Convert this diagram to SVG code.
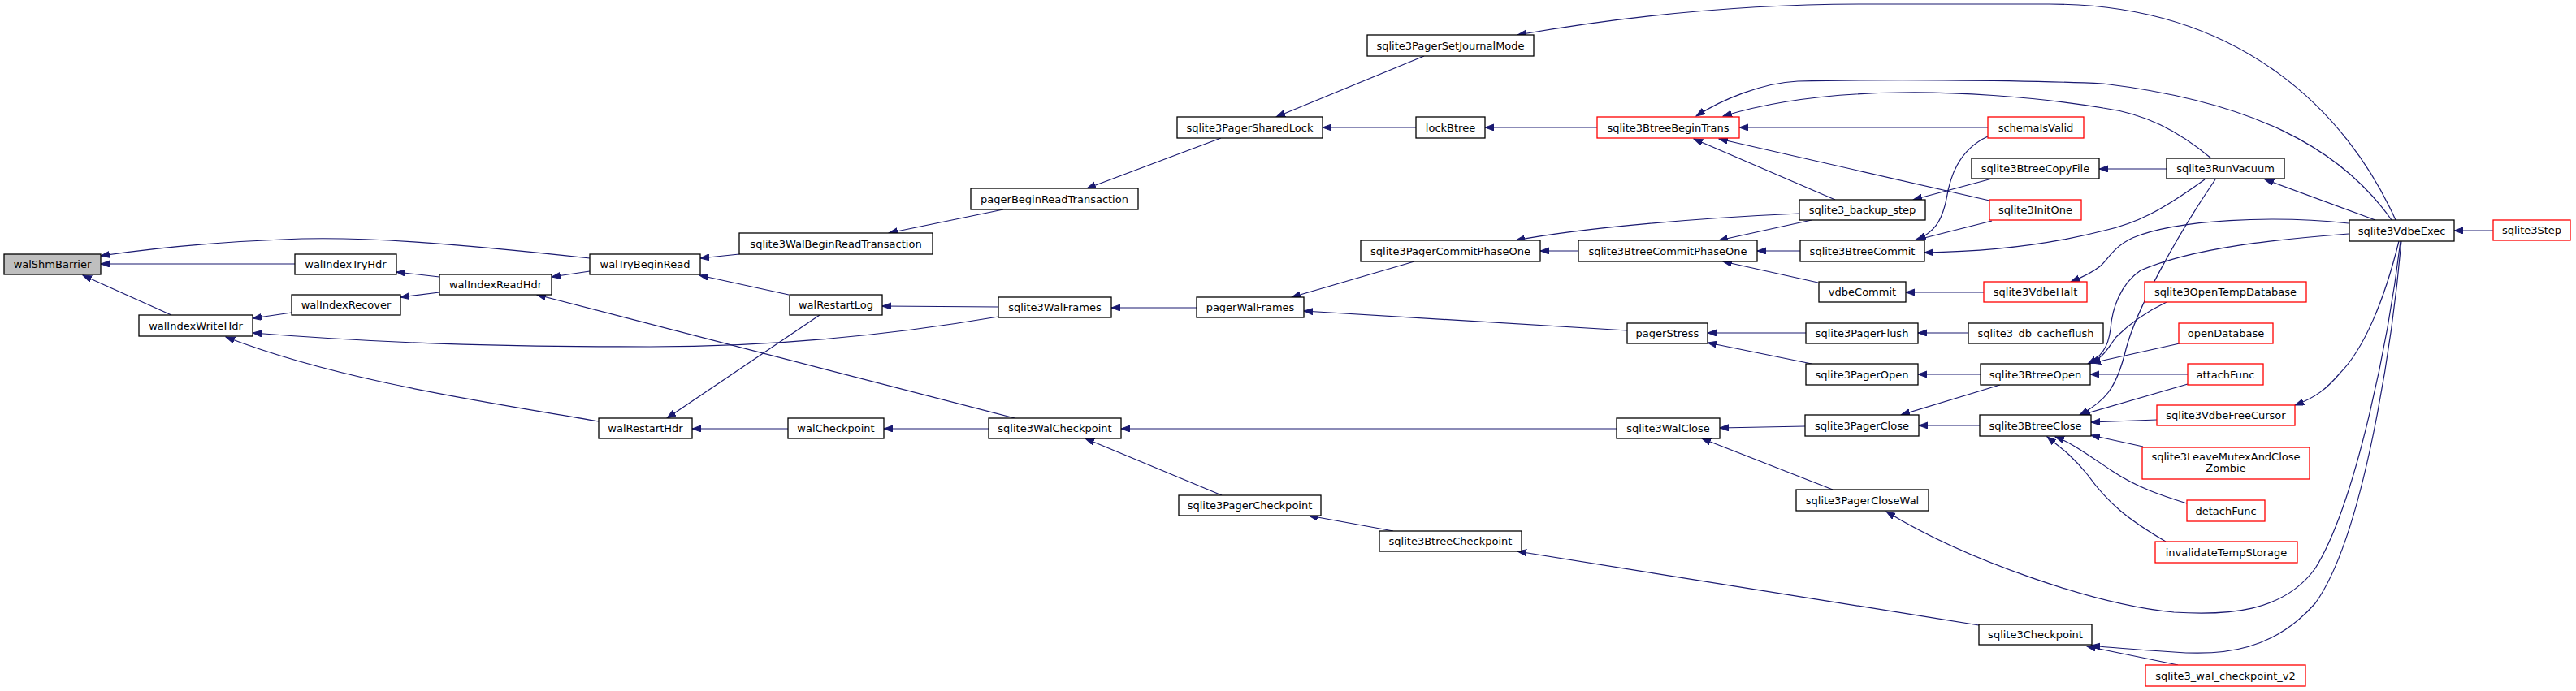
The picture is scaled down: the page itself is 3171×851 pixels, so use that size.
<svg xmlns="http://www.w3.org/2000/svg" width="3171" height="851" viewBox="0 0 3171 851">
<style>
.n rect{fill:#fff;stroke:#000;stroke-width:1.3}
.r rect{stroke:#ff0000}
.g rect{fill:#bfbfbf}
text{font-family:"DejaVu Sans","Liberation Sans",sans-serif;font-size:13px;text-anchor:middle;fill:#000}
#edges path{fill:none;stroke:#191970;stroke-width:1.2;marker-end:url(#ah)}
</style>
<defs>
<marker id="ah" markerUnits="userSpaceOnUse" markerWidth="12" markerHeight="9" refX="11" refY="4" orient="auto">
<path d="M0,0 L11,4 L0,8 z" fill="#191970" stroke="#191970" stroke-width="1"/>
</marker>
</defs>
<rect width="3171" height="851" fill="#fff"/>
<g id="edges">
<path d="M726,318 C560,300 440,290 347,295 C270,298 200,304 124,315"/>
<path d="M363,325 L124,325"/>
<path d="M211,388 L102,339"/>
<path d="M541,341 L488,335"/>
<path d="M541,360 L493,366"/>
<path d="M359,385 L311,392"/>
<path d="M726,334 L679,341"/>
<path d="M1229,390 C1100,412 950,427 800,427 C650,427 500,425 311,410"/>
<path d="M737,519 C600,495 420,470 278,415"/>
<path d="M1009,388 L821,515"/>
<path d="M971,363 L861,339"/>
<path d="M910,313 L862,318"/>
<path d="M1235,258 L1094,287"/>
<path d="M1503,170 L1338,232"/>
<path d="M1229,378 L1086,377"/>
<path d="M1473,379 L1368,379"/>
<path d="M1249,515 L661,363"/>
<path d="M970,528 L852,528"/>
<path d="M1217,528 L1088,528"/>
<path d="M1990,528 L1380,528"/>
<path d="M1504,610 L1336,540"/>
<path d="M1715,654 L1611,635"/>
<path d="M2436,770 L1868,679"/>
<path d="M1743,157 L1628,157"/>
<path d="M1753,69 L1571,144"/>
<path d="M2949,271 C2890,140 2760,5 2523,5 L2294,5 C2150,5 2000,20 1868,43"/>
<path d="M1966,157 L1828,157"/>
<path d="M2944,271 C2880,180 2770,125 2589,103 C2480,98 2300,98 2213,100 C2170,102 2120,122 2088,143"/>
<path d="M2722,195 C2680,160 2640,140 2589,133 C2500,118 2400,113 2340,114 C2250,115 2180,125 2121,143"/>
<path d="M2447,157 L2141,157"/>
<path d="M2259,246 L2085,171"/>
<path d="M2449,247 L2116,171"/>
<path d="M2215,263 C2100,268 1950,280 1866,296"/>
<path d="M1943,309 L1896,309"/>
<path d="M2230,271 L2116,296"/>
<path d="M2216,309 L2163,309"/>
<path d="M2238,348 L2121,322"/>
<path d="M1741,322 L1590,366"/>
<path d="M2003,407 L1605,383"/>
<path d="M2223,410 L2102,410"/>
<path d="M2230,448 L2102,422"/>
<path d="M2423,410 L2361,410"/>
<path d="M2438,461 L2361,461"/>
<path d="M2437,524 L2362,524"/>
<path d="M2462,474 L2340,511"/>
<path d="M2222,525 L2117,527"/>
<path d="M2256,603 L2095,540"/>
<path d="M2955,297 C2940,420 2900,620 2850,700 C2810,755 2740,758 2676,754 C2580,745 2420,690 2322,630"/>
<path d="M2956,297 C2945,420 2910,660 2850,743 C2800,800 2740,808 2676,803 C2630,800 2600,798 2574,795"/>
<path d="M2681,819 L2569,796"/>
<path d="M3069,284 L3021,284"/>
<path d="M2667,208 L2584,208"/>
<path d="M2924,271 L2788,221"/>
<path d="M2452,220 L2355,246"/>
<path d="M2447,168 C2410,185 2400,220 2396,245 C2390,275 2380,285 2360,296"/>
<path d="M2452,272 L2357,296"/>
<path d="M2714,221 C2660,260 2630,275 2590,284 C2520,302 2440,310 2369,311"/>
<path d="M2442,360 L2346,360"/>
<path d="M2891,275 C2800,265 2680,270 2625,293 C2600,305 2595,320 2585,328 C2575,336 2562,342 2549,347"/>
<path d="M2891,288 C2800,295 2700,305 2635,333 C2610,350 2600,380 2598,405 C2595,430 2585,440 2570,448"/>
<path d="M2727,221 C2680,290 2630,380 2617,430 C2605,480 2590,495 2560,511"/>
<path d="M2667,372 C2640,385 2620,400 2605,415 C2595,428 2590,440 2573,447"/>
<path d="M2683,423 L2575,447"/>
<path d="M2693,461 L2573,461"/>
<path d="M2693,473 L2562,511"/>
<path d="M2953,297 C2935,370 2910,430 2880,460 C2865,478 2850,490 2825,499"/>
<path d="M2655,517 L2574,520"/>
<path d="M2638,550 L2574,536"/>
<path d="M2692,620 C2660,610 2630,600 2600,580 C2570,560 2550,545 2530,538"/>
<path d="M2666,667 C2620,640 2595,620 2570,585 C2550,560 2535,550 2520,538"/>
</g>
<g id="walShmBarrier" class="n g"><rect x="5" y="313" width="119" height="25"/><text x="64.5" y="330">walShmBarrier</text></g>
<g id="walIndexTryHdr" class="n"><rect x="363" y="313" width="125" height="25"/><text x="425.5" y="330">walIndexTryHdr</text></g>
<g id="walIndexReadHdr" class="n"><rect x="541" y="338" width="138" height="25"/><text x="610" y="355">walIndexReadHdr</text></g>
<g id="walIndexRecover" class="n"><rect x="359" y="363" width="134" height="25"/><text x="426" y="380">walIndexRecover</text></g>
<g id="walIndexWriteHdr" class="n"><rect x="171" y="388" width="140" height="26"/><text x="241" y="405.5">walIndexWriteHdr</text></g>
<g id="walTryBeginRead" class="n"><rect x="726" y="313" width="136" height="25"/><text x="794" y="330">walTryBeginRead</text></g>
<g id="walRestartHdr" class="n"><rect x="737" y="515" width="115" height="25"/><text x="794.5" y="532">walRestartHdr</text></g>
<g id="sqlite3WalBeginReadTransaction" class="n"><rect x="910" y="287" width="238" height="26"/><text x="1029" y="304.5">sqlite3WalBeginReadTransaction</text></g>
<g id="pagerBeginReadTransaction" class="n"><rect x="1195" y="232" width="206" height="26"/><text x="1298" y="249.5">pagerBeginReadTransaction</text></g>
<g id="sqlite3PagerSharedLock" class="n"><rect x="1449" y="144" width="179" height="26"/><text x="1538.5" y="161.5">sqlite3PagerSharedLock</text></g>
<g id="walRestartLog" class="n"><rect x="972" y="363" width="114" height="25"/><text x="1029" y="380">walRestartLog</text></g>
<g id="sqlite3WalFrames" class="n"><rect x="1229" y="366" width="139" height="25"/><text x="1298.5" y="383">sqlite3WalFrames</text></g>
<g id="pagerWalFrames" class="n"><rect x="1473" y="366" width="132" height="25"/><text x="1539" y="383">pagerWalFrames</text></g>
<g id="walCheckpoint" class="n"><rect x="970" y="515" width="118" height="25"/><text x="1029" y="532">walCheckpoint</text></g>
<g id="sqlite3WalCheckpoint" class="n"><rect x="1217" y="515" width="163" height="25"/><text x="1298.5" y="532">sqlite3WalCheckpoint</text></g>
<g id="sqlite3PagerCheckpoint" class="n"><rect x="1451" y="610" width="175" height="25"/><text x="1538.5" y="627">sqlite3PagerCheckpoint</text></g>
<g id="sqlite3PagerSetJournalMode" class="n"><rect x="1683" y="43" width="205" height="26"/><text x="1785.5" y="60.5">sqlite3PagerSetJournalMode</text></g>
<g id="lockBtree" class="n"><rect x="1743" y="144" width="85" height="26"/><text x="1785.5" y="161.5">lockBtree</text></g>
<g id="sqlite3BtreeBeginTrans" class="n r"><rect x="1966" y="144" width="175" height="26"/><text x="2053.5" y="161.5">sqlite3BtreeBeginTrans</text></g>
<g id="sqlite3_backup_step" class="n"><rect x="2215" y="246" width="155" height="25"/><text x="2292.5" y="263">sqlite3_backup_step</text></g>
<g id="sqlite3PagerCommitPhaseOne" class="n"><rect x="1675" y="296" width="221" height="26"/><text x="1785.5" y="313.5">sqlite3PagerCommitPhaseOne</text></g>
<g id="sqlite3BtreeCommitPhaseOne" class="n"><rect x="1943" y="296" width="220" height="26"/><text x="2053" y="313.5">sqlite3BtreeCommitPhaseOne</text></g>
<g id="sqlite3BtreeCommit" class="n"><rect x="2216" y="296" width="153" height="26"/><text x="2292.5" y="313.5">sqlite3BtreeCommit</text></g>
<g id="vdbeCommit" class="n"><rect x="2239" y="347" width="107" height="25"/><text x="2292.5" y="364">vdbeCommit</text></g>
<g id="pagerStress" class="n"><rect x="2003" y="398" width="99" height="25"/><text x="2052.5" y="415">pagerStress</text></g>
<g id="sqlite3PagerFlush" class="n"><rect x="2223" y="398" width="138" height="25"/><text x="2292" y="415">sqlite3PagerFlush</text></g>
<g id="sqlite3PagerOpen" class="n"><rect x="2223" y="448" width="138" height="26"/><text x="2292" y="465.5">sqlite3PagerOpen</text></g>
<g id="sqlite3WalClose" class="n"><rect x="1990" y="515" width="127" height="25"/><text x="2053.5" y="532">sqlite3WalClose</text></g>
<g id="sqlite3PagerClose" class="n"><rect x="2222" y="511" width="140" height="26"/><text x="2292" y="528.5">sqlite3PagerClose</text></g>
<g id="sqlite3PagerCloseWal" class="n"><rect x="2211" y="603" width="163" height="26"/><text x="2292.5" y="620.5">sqlite3PagerCloseWal</text></g>
<g id="sqlite3BtreeCheckpoint" class="n"><rect x="1698" y="654" width="175" height="25"/><text x="1785.5" y="671">sqlite3BtreeCheckpoint</text></g>
<g id="schemaIsValid" class="n r"><rect x="2447" y="144" width="118" height="26"/><text x="2506" y="161.5">schemaIsValid</text></g>
<g id="sqlite3BtreeCopyFile" class="n"><rect x="2427" y="195" width="157" height="25"/><text x="2505.5" y="212">sqlite3BtreeCopyFile</text></g>
<g id="sqlite3RunVacuum" class="n"><rect x="2667" y="195" width="145" height="25"/><text x="2739.5" y="212">sqlite3RunVacuum</text></g>
<g id="sqlite3InitOne" class="n r"><rect x="2449" y="246" width="113" height="25"/><text x="2505.5" y="263">sqlite3InitOne</text></g>
<g id="sqlite3VdbeExec" class="n"><rect x="2892" y="271" width="129" height="26"/><text x="2956.5" y="288.5">sqlite3VdbeExec</text></g>
<g id="sqlite3Step" class="n r"><rect x="3069" y="271" width="95" height="25"/><text x="3116.5" y="288">sqlite3Step</text></g>
<g id="sqlite3VdbeHalt" class="n r"><rect x="2442" y="347" width="127" height="25"/><text x="2505.5" y="364">sqlite3VdbeHalt</text></g>
<g id="sqlite3OpenTempDatabase" class="n r"><rect x="2640" y="347" width="199" height="25"/><text x="2739.5" y="364">sqlite3OpenTempDatabase</text></g>
<g id="sqlite3_db_cacheflush" class="n"><rect x="2423" y="398" width="166" height="25"/><text x="2506" y="415">sqlite3_db_cacheflush</text></g>
<g id="openDatabase" class="n r"><rect x="2682" y="398" width="116" height="25"/><text x="2740" y="415">openDatabase</text></g>
<g id="sqlite3BtreeOpen" class="n"><rect x="2438" y="448" width="135" height="26"/><text x="2505.5" y="465.5">sqlite3BtreeOpen</text></g>
<g id="attachFunc" class="n r"><rect x="2693" y="448" width="93" height="26"/><text x="2739.5" y="465.5">attachFunc</text></g>
<g id="sqlite3BtreeClose" class="n"><rect x="2437" y="511" width="137" height="26"/><text x="2505.5" y="528.5">sqlite3BtreeClose</text></g>
<g id="sqlite3VdbeFreeCursor" class="n r"><rect x="2655" y="499" width="170" height="25"/><text x="2740" y="516">sqlite3VdbeFreeCursor</text></g>
<g id="sqlite3LeaveMutexAndCloseZombie" class="n r"><rect x="2637" y="551" width="206" height="39"/><text x="2740" y="567">sqlite3LeaveMutexAndClose</text><text x="2740" y="581">Zombie</text></g>
<g id="detachFunc" class="n r"><rect x="2692" y="616" width="96" height="26"/><text x="2740" y="633.5">detachFunc</text></g>
<g id="invalidateTempStorage" class="n r"><rect x="2653" y="667" width="175" height="26"/><text x="2740.5" y="684.5">invalidateTempStorage</text></g>
<g id="sqlite3Checkpoint" class="n"><rect x="2436" y="769" width="139" height="25"/><text x="2505.5" y="786">sqlite3Checkpoint</text></g>
<g id="sqlite3_wal_checkpoint_v2" class="n r"><rect x="2641" y="819" width="197" height="26"/><text x="2739.5" y="836.5">sqlite3_wal_checkpoint_v2</text></g>
</svg>
